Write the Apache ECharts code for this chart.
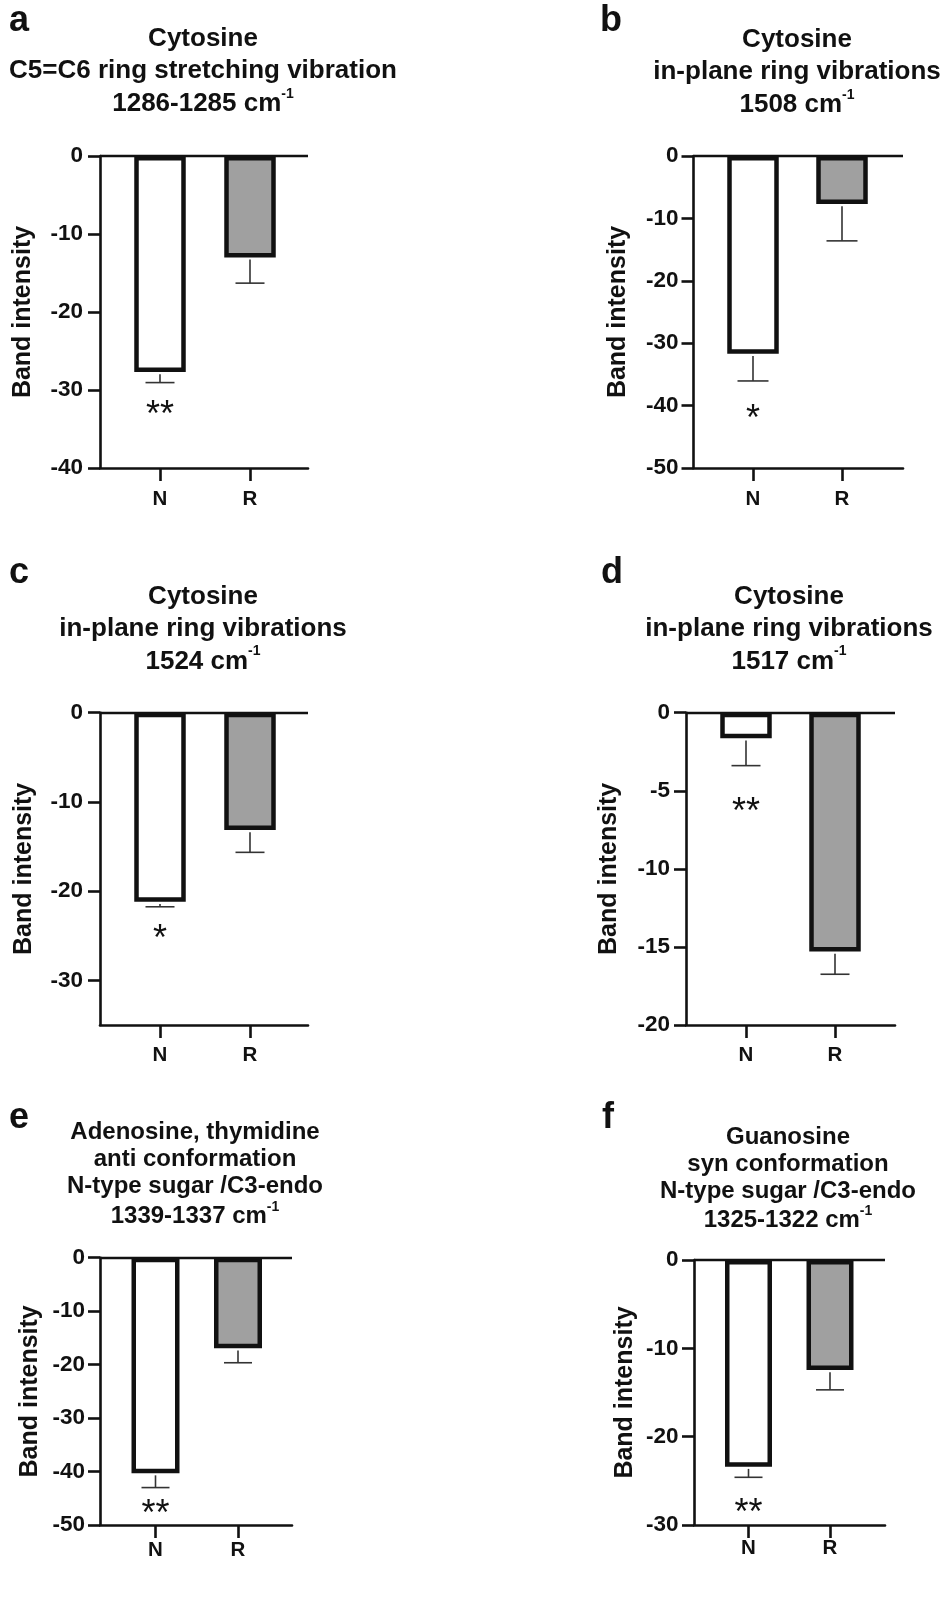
<!DOCTYPE html>
<html>
<head>
<meta charset="utf-8">
<script src="https://cdn.jsdelivr.net/npm/echarts@6/dist/echarts.min.js"></script>
<style>
html,body{margin:0;padding:0;background:#fff;}
#chart{width:941px;height:1600px;}
</style>
</head>
<body>
<div id="chart"></div>
<script>
// ---------- data ----------
const categories = ['N', 'R'];
const panelLetters = ['a', 'b', 'c', 'd', 'e', 'f'];
const yAxisName = 'Band intensity';

const titleLinesA = ['Cytosine', 'C5=C6 ring stretching vibration'];
const titleLinesB = ['Cytosine', 'in-plane ring vibrations'];
const titleLinesC = ['Cytosine', 'in-plane ring vibrations'];
const titleLinesD = ['Cytosine', 'in-plane ring vibrations'];
const titleLinesE = ['Adenosine, thymidine', 'anti conformation', 'N-type sugar /C3-endo'];
const titleLinesF = ['Guanosine', 'syn conformation', 'N-type sugar /C3-endo'];
const bandsA = '1286-1285';
const bandsB = '1508';
const bandsC = '1524';
const bandsD = '1517';
const bandsE = '1339-1337';
const bandsF = '1325-1322';

const meanA = [-27.7, -13.0];
const errA  = [1.35, 3.3];
const starsA = ['**', ''];
const meanB = [-31.7, -7.7];
const errB  = [4.35, 5.9];
const starsB = ['*', ''];
const meanC = [-21.2, -13.15];
const errC  = [0.55, 2.5];
const starsC = ['*', ''];
const meanD = [-1.64, -15.3];
const errD  = [1.75, 1.45];
const starsD = ['**', ''];
const meanE = [-40.3, -16.95];
const errE  = [2.7, 2.7];
const starsE = ['**', ''];
const meanF = [-23.4, -12.45];
const errF  = [1.2, 2.25];
const starsF = ['**', ''];

const yMinA = -40; const yTicksA = [0, -10, -20, -30, -40];
const yMinB = -50; const yTicksB = [0, -10, -20, -30, -40, -50];
const yMinC = -35; const yTicksC = [0, -10, -20, -30];
const yMinD = -20; const yTicksD = [0, -5, -10, -15, -20];
const yMinE = -50; const yTicksE = [0, -10, -20, -30, -40, -50];
const yMinF = -30; const yTicksF = [0, -10, -20, -30];

// ---------- layout (positions / sizes only) ----------
const layout = [
  {axisX:100, nX:160, rX:250, endX:308, topY:156, botY:468, barW:51.5, cap:14.5, titleX:203, titleTop:23.2, lh:32, lh3:34, fs:26, supLH:8, letterX:9, letterTop:3.5, nameGap:64, yLabMargin:17, xLabMargin:21, starAt:-32.3},
  {axisX:693.5, nX:753, rX:842, endX:903, topY:156, botY:468, barW:51.5, cap:15.5, titleX:797, titleTop:24, lh:32, lh3:34, fs:26, supLH:8, letterX:600, letterTop:3.5, nameGap:63, yLabMargin:15, xLabMargin:21, starAt:-41.1},
  {axisX:100, nX:160, rX:250, endX:308, topY:712.7, botY:1025, barW:51.5, cap:14.5, titleX:203, titleTop:580.5, lh:32, lh3:34, fs:26, supLH:8, letterX:9, letterTop:555.5, nameGap:63, yLabMargin:17, xLabMargin:19.5, starAt:-24.65},
  {axisX:686, nX:746, rX:835, endX:895, topY:712.7, botY:1025, barW:51.5, cap:14.5, titleX:789, titleTop:580.5, lh:32, lh3:34, fs:26, supLH:8, letterX:601, letterTop:555.5, nameGap:64, yLabMargin:16, xLabMargin:19.5, starAt:-5.91},
  {axisX:100, nX:155.5, rX:238, endX:292, topY:1257.7, botY:1525, barW:48, cap:14, titleX:195, titleTop:1119, lh:27, lh3:32, fs:24, supLH:18, letterX:9, letterTop:1100.5, nameGap:57, yLabMargin:15, xLabMargin:15, starAt:-46.6},
  {axisX:694, nX:748.5, rX:830, endX:885, topY:1260, botY:1525, barW:47, cap:14, titleX:788, titleTop:1123.5, lh:27, lh3:32, fs:24, supLH:18, letterX:602, letterTop:1100.5, nameGap:56, yLabMargin:15.5, xLabMargin:13, starAt:-27.9}
];

const panels = [
  {lines:titleLinesA, bands:bandsA, mean:meanA, err:errA, stars:starsA, yMin:yMinA, ticks:yTicksA},
  {lines:titleLinesB, bands:bandsB, mean:meanB, err:errB, stars:starsB, yMin:yMinB, ticks:yTicksB},
  {lines:titleLinesC, bands:bandsC, mean:meanC, err:errC, stars:starsC, yMin:yMinC, ticks:yTicksC},
  {lines:titleLinesD, bands:bandsD, mean:meanD, err:errD, stars:starsD, yMin:yMinD, ticks:yTicksD},
  {lines:titleLinesE, bands:bandsE, mean:meanE, err:errE, stars:starsE, yMin:yMinE, ticks:yTicksE},
  {lines:titleLinesF, bands:bandsF, mean:meanF, err:errF, stars:starsF, yMin:yMinF, ticks:yTicksF}
];

const FONT = "'Liberation Sans', Arial, Helvetica, sans-serif";
const INK = '#111111';
const barFills = ['#ffffff', '#a0a0a0'];
const catPos = categories.map((c, i) => i + 1);
const STAR_FS = 36;

const option = {
  backgroundColor: '#ffffff',
  animation: false,
  title: [],
  grid: [],
  xAxis: [],
  yAxis: [],
  series: []
};

panels.forEach((p, i) => {
  const L = layout[i];
  const unit = L.rX - L.nX;
  const xMin = 1 - (L.nX - L.axisX) / unit;
  const xMax = xMin + (L.endX - L.axisX) / unit;

  // panel letter
  option.title.push({
    text: panelLetters[i], left: L.letterX, top: L.letterTop, padding: 0,
    textStyle: {fontFamily: FONT, fontSize: 36, fontWeight: 'bold', color: INK, lineHeight: 36}
  });
  // panel title
  const text = p.lines.map(s => '{t|' + s + '}').join('\n') + '\n{w|' + p.bands + ' cm}{sup|-1}';
  option.title.push({
    text: text, left: L.titleX, top: L.titleTop, textAlign: 'center', padding: 0,
    textStyle: {
      fontFamily: FONT, fontSize: L.fs, fontWeight: 'bold', color: INK, lineHeight: L.lh,
      rich: {
        t: {fontFamily: FONT, fontSize: L.fs, fontWeight: 'bold', color: INK, lineHeight: L.lh},
        w: {fontFamily: FONT, fontSize: L.fs, fontWeight: 'bold', color: INK, lineHeight: L.lh3},
        sup: {fontFamily: FONT, fontSize: 14, fontWeight: 'bold', color: INK, lineHeight: L.supLH, verticalAlign: 'top'}
      }
    }
  });

  option.grid.push({
    left: L.axisX, top: L.topY, width: L.endX - L.axisX, height: L.botY - L.topY,
    containLabel: false, outerBoundsMode: 'none'
  });

  option.xAxis.push({
    gridIndex: i, type: 'value', min: xMin, max: xMax,
    axisLine: {show: true, onZero: false, lineStyle: {color: INK, width: 2.6}},
    axisTick: {show: true, customValues: catPos, length: 13, lineStyle: {color: INK, width: 2.6}},
    axisLabel: {show: true, customValues: catPos, margin: L.xLabMargin,
      formatter: v => categories[Math.round(v) - 1] || '',
      fontFamily: FONT, fontSize: 20.5, fontWeight: 'bold', color: INK},
    splitLine: {show: false}
  });

  option.yAxis.push({
    gridIndex: i, type: 'value', min: p.yMin, max: 0,
    name: yAxisName, nameLocation: 'middle', nameRotate: 90, nameGap: L.nameGap,
    nameTextStyle: {fontFamily: FONT, fontSize: 25, fontWeight: 'bold', color: INK},
    axisLine: {show: true, onZero: false, lineStyle: {color: INK, width: 2.6}},
    axisTick: {show: true, customValues: p.ticks, length: 12, lineStyle: {color: INK, width: 2.6}},
    axisLabel: {show: true, customValues: p.ticks, margin: L.yLabMargin,
      fontFamily: FONT, fontSize: 22.5, fontWeight: 'bold', color: INK},
    splitLine: {show: false}
  });

  option.series.push({
    type: 'bar', xAxisIndex: i, yAxisIndex: i, barWidth: L.barW,
    data: p.mean.map((v, k) => ({value: [catPos[k], v], itemStyle: {color: barFills[k]}})),
    itemStyle: {borderColor: INK, borderWidth: 4.5},
    emphasis: {disabled: true},
    markLine: {
      silent: true, symbol: 'none', label: {show: false},
      lineStyle: {color: INK, width: 2.4, type: 'solid'},
      data: [{yAxis: 0}]
    },
    z: 2
  });

  const stars = p.stars;
  option.series.push({
    type: 'custom', xAxisIndex: i, yAxisIndex: i, z: 3, silent: true,
    data: p.mean.map((v, k) => [catPos[k], v, p.err[k]]),
    renderItem: (params, api) => {
      const x = api.value(0), m = api.value(1), e = api.value(2);
      const p0 = api.coord([x, m]);
      const p1 = api.coord([x, m - e]);
      const st = {stroke: '#333333', lineWidth: 1.6};
      const children = [
        {type: 'line', shape: {x1: p0[0], y1: p0[1] + 2.2, x2: p1[0], y2: p1[1]}, style: st},
        {type: 'line', shape: {x1: p1[0] - L.cap, y1: p1[1], x2: p1[0] + L.cap, y2: p1[1]}, style: st}
      ];
      const s = stars[params.dataIndex];
      if (s) {
        const ps = api.coord([x, L.starAt]);
        children.push({type: 'text', x: ps[0], y: ps[1] + 0.22 * STAR_FS,
          style: {text: s, fontFamily: FONT, fontSize: STAR_FS, fill: INK, align: 'center', verticalAlign: 'middle'}});
      }
      return {type: 'group', children: children};
    }
  });
});

const chart = echarts.init(document.getElementById('chart'), null, {renderer: 'canvas'});
chart.setOption(option);
</script>
</body>
</html>
